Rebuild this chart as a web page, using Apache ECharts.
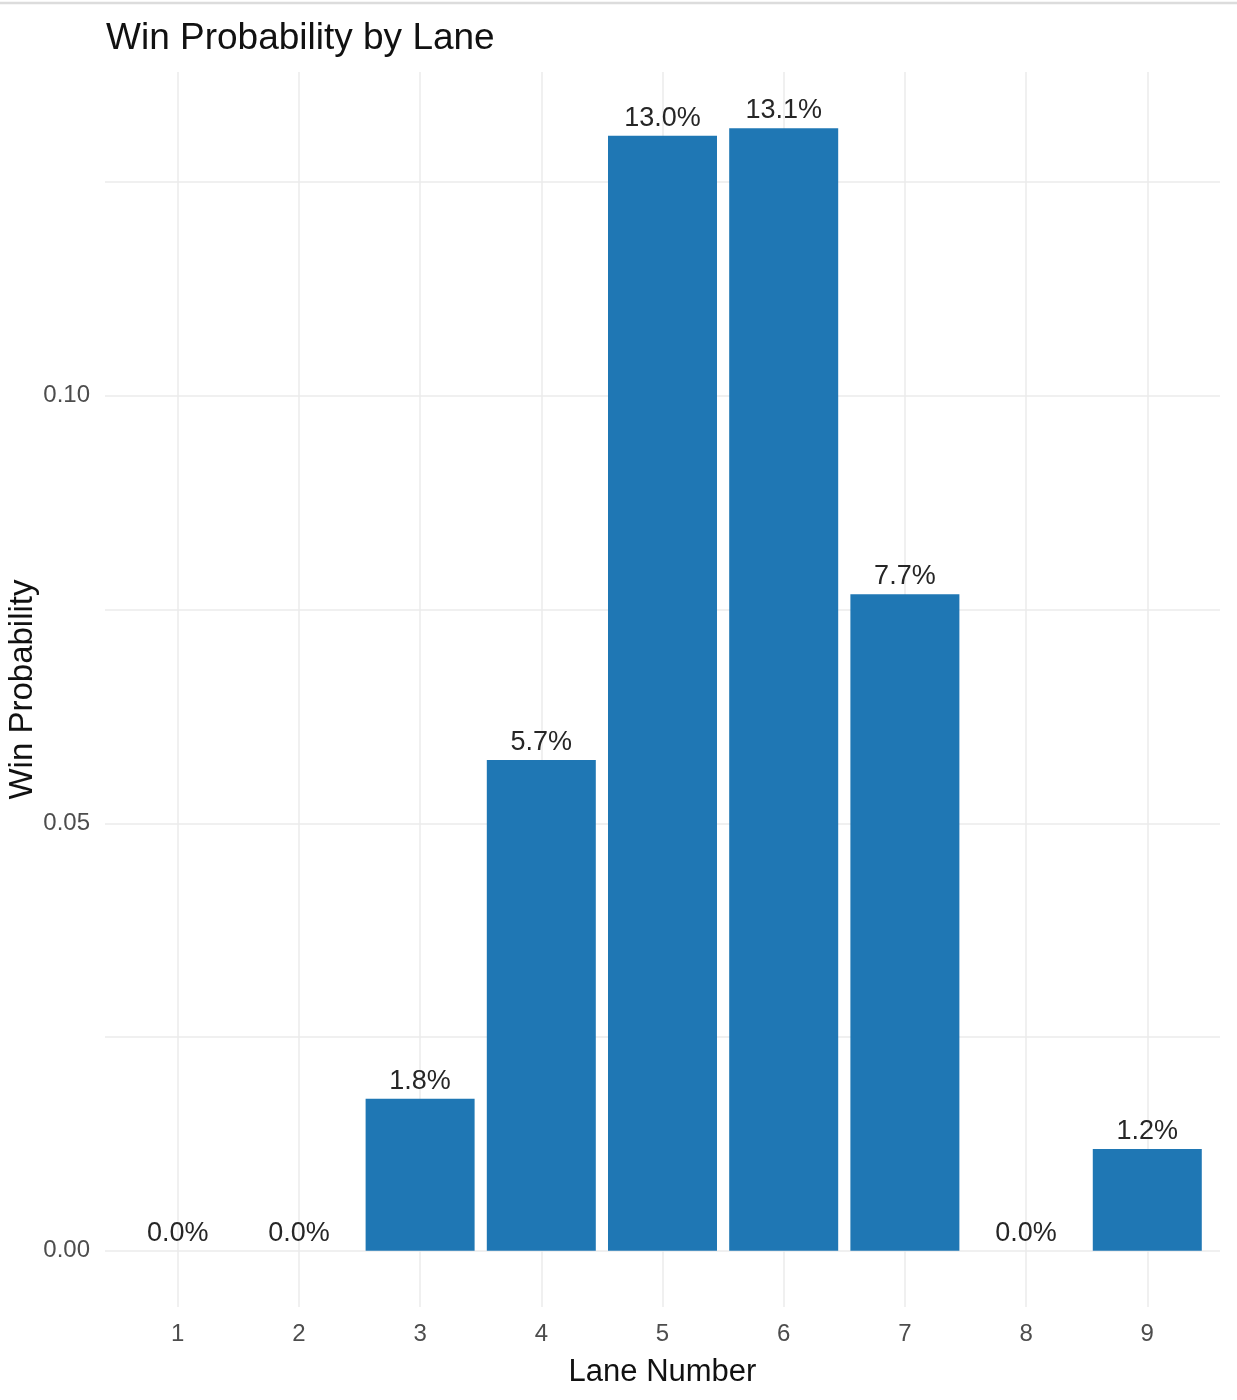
<!DOCTYPE html>
<html>
<head>
<meta charset="utf-8">
<script src="https://cdn.jsdelivr.net/npm/echarts@6/dist/echarts.min.js"></script>
<style>
  html, body { margin: 0; padding: 0; background: #ffffff; }
  #chart { width: 1237px; height: 1400px; }
</style>
</head>
<body>
<div id="chart"></div>
<script>
const lanes = [1, 2, 3, 4, 5, 6, 7, 8, 9];
const winProb = [0.0, 0.0, 0.0178, 0.0574, 0.1304, 0.1313, 0.0768, 0.0, 0.0119];
const xTickLabels = [1, 2, 3, 4, 5, 6, 7, 8, 9];
const yGridValues = [0, 0.025, 0.05, 0.075, 0.10, 0.125];
const yTickLabels = [0, 0.05, 0.10];

const FONT = "'Liberation Sans', Arial, sans-serif";
const maxV = Math.max(...winProb);
const pad = maxV * 0.05;

const chart = echarts.init(document.getElementById('chart'), null, { renderer: 'canvas' });
chart.setOption({
  backgroundColor: '#ffffff',
  animation: false,
  title: {
    text: 'Win Probability by Lane',
    left: 106,
    top: 20,
    padding: 0,
    textStyle: { fontFamily: FONT, fontSize: 37, fontWeight: 'normal', color: '#111111' }
  },
  graphic: [{
    type: 'line',
    shape: { x1: 0, y1: 3, x2: 1237, y2: 3 },
    style: { stroke: '#dcdcdc', lineWidth: 2.5 },
    silent: true
  }],
  grid: { left: 105, right: 17, top: 72, bottom: 93, containLabel: false, outerBoundsMode: 'none' },
  xAxis: {
    type: 'value',
    min: 0.4,
    max: 9.6,
    name: 'Lane Number',
    nameLocation: 'middle',
    nameGap: 50,
    nameMoveOverlap: false,
    nameTextStyle: { fontFamily: FONT, fontSize: 31, color: '#111111' },
    axisLine: { show: false },
    axisTick: { show: false, customValues: xTickLabels },
    axisLabel: {
      customValues: xTickLabels,
      margin: 15,
      fontFamily: FONT,
      fontSize: 24,
      color: '#4d4d4d',
      formatter: v => String(v)
    },
    splitLine: { show: true, lineStyle: { color: '#ebebeb', width: 1.5 } }
  },
  yAxis: {
    type: 'value',
    min: -pad,
    max: maxV + pad,
    name: 'Win Probability',
    nameLocation: 'middle',
    nameGap: 66,
    nameMoveOverlap: false,
    nameTextStyle: { fontFamily: FONT, fontSize: 33, color: '#111111' },
    axisLine: { show: false },
    axisTick: { show: false, customValues: yGridValues },
    axisLabel: {
      customValues: yTickLabels,
      margin: 15,
      fontFamily: FONT,
      fontSize: 24,
      color: '#4d4d4d',
      formatter: v => v.toFixed(2)
    },
    splitLine: { show: true, lineStyle: { color: '#ebebeb', width: 1.5 } }
  },
  series: [{
    type: 'bar',
    data: lanes.map((l, i) => [l, winProb[i]]),
    barWidth: 109,
    itemStyle: { color: '#1f77b4' },
    label: {
      show: true,
      position: 'top',
      distance: 4,
      fontFamily: FONT,
      fontSize: 27,
      color: '#262626',
      formatter: p => (p.value[1] * 100).toFixed(1) + '%'
    }
  }]
});
</script>
</body>
</html>
